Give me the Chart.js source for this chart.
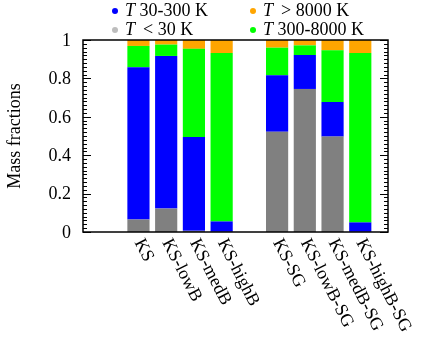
<!DOCTYPE html>
<html>
<head>
<meta charset="utf-8">
<script src="https://cdn.jsdelivr.net/npm/chart.js@4.4.1/dist/chart.umd.min.js"></script>
<style>
    body { margin: 0; background: #fff; }
    #wrap { position: relative; width: 447px; height: 352px; }
    #legend {
        position: absolute; left: 112px; top: 1px;
        display: grid; grid-template-columns: 138px 150px; grid-auto-rows: 19px;
        font: 18px "Liberation Serif", serif; color: #000;
    }
    .item { display: flex; align-items: center; white-space: nowrap; line-height: 19px; }
    .dot { width: 6px; height: 6px; border-radius: 50%; margin-right: 7px; flex: none; }
</style>
</head>
<body>
<div id="wrap">
    <canvas id="massChart" width="447" height="352"></canvas>
    <div id="legend"></div>
</div>
<script>
// Runs, in the order they appear on the axis (a gap splits the two groups)
const runsNoSG = ['KS', 'KS-lowB', 'KS-medB', 'KS-highB'];
const runsSG = ['KS-SG', 'KS-lowB-SG', 'KS-medB-SG', 'KS-highB-SG'];

// Mass fractions per temperature phase
const fracCold = [0.065, 0.122, 0.006, 0.001, 0.522, 0.745, 0.497, 0.001]; // T < 30 K
const fracCool = [0.793, 0.795, 0.489, 0.054, 0.294, 0.177, 0.180, 0.049]; // T 30-300 K
const fracWarm = [0.111, 0.059, 0.459, 0.877, 0.144, 0.050, 0.269, 0.882]; // T 300-8000 K
const fracHot  = [0.031, 0.024, 0.046, 0.068, 0.040, 0.028, 0.054, 0.068]; // T > 8000 K

const yTicks = [0, 0.2, 0.4, 0.6, 0.8, 1];
const yTitle = 'Mass fractions';

const runs = runsNoSG.concat(runsSG);
// axis slots: two empty slots on the left, one between the groups, one on the right
const axisSlots = ['', ' '].concat(runsNoSG, ['  '], runsSG, ['   ']);

const FONT = '18px "Liberation Serif", serif';

const phases = [
    { label: 'T < 30 K', html: '<i>T</i>&thinsp; &lt; 30 K', data: fracCold, color: '#808080', dot: '#bdbdbd' },
    { label: 'T 30-300 K', html: '<i>T</i> 30-300 K', data: fracCool, color: '#0000ff', dot: '#0000ff' },
    { label: 'T 300-8000 K', html: '<i>T</i> 300-8000 K', data: fracWarm, color: '#00ff00', dot: '#00ff00' },
    { label: 'T > 8000 K', html: '<i>T</i>&thinsp; &gt; 8000 K', data: fracHot, color: '#ffa500', dot: '#ffa500' }
];

// Legend (two columns, filled column by column)
const legendOrder = [1, 3, 0, 2];
document.getElementById('legend').innerHTML = legendOrder.map(i => {
    const p = phases[i];
    return `<div class="item"><span class="dot" style="background:${p.dot}"></span><span>${p.html}</span></div>`;
}).join('');

/**
 * Frame with inward ticks on both sides, axis texts in the serif face
 */
const framePlugin = {
    id: 'frame',
    afterDatasetsDraw(chart) {
        const { ctx, chartArea: a } = chart;
        const y = chart.scales.y;
        ctx.save();
        ctx.strokeStyle = '#000';
        ctx.lineWidth = 1;
        for (let k = 0; k <= 50; k++) {
            const py = Math.round(y.getPixelForValue(k / 50)) + 0.5;
            const len = k % 10 === 0 ? 8 : 4;
            ctx.beginPath();
            ctx.moveTo(a.left, py); ctx.lineTo(a.left + len, py);
            ctx.moveTo(a.right, py); ctx.lineTo(a.right - len, py);
            ctx.stroke();
        }
        ctx.lineWidth = 1.5;
        ctx.strokeRect(a.left, a.top, a.right - a.left, a.bottom - a.top);
        ctx.restore();
    },
    afterDraw(chart) {
        const { ctx, chartArea: a } = chart;
        const x = chart.scales.x;
        const y = chart.scales.y;
        ctx.save();
        ctx.fillStyle = '#000';
        ctx.font = FONT;

        // y tick labels
        ctx.textAlign = 'right';
        ctx.textBaseline = 'middle';
        yTicks.forEach(v => {
            ctx.fillText(String(v), a.left - 12, y.getPixelForValue(v) + 1);
        });

        // y title
        ctx.save();
        ctx.translate(15, (a.top + a.bottom) / 2);
        ctx.rotate(-Math.PI / 2);
        ctx.textAlign = 'center';
        ctx.fillText(yTitle, 0, 0);
        ctx.restore();

        // run names under the bars
        ctx.textAlign = 'left';
        runs.forEach(name => {
            const px = x.getPixelForValue(axisSlots.indexOf(name));
            ctx.save();
            ctx.translate(px, a.bottom + 8);
            ctx.rotate(63 * Math.PI / 180);
            ctx.fillText(name, 0, 0);
            ctx.restore();
        });
        ctx.restore();
    }
};

function drawChart() {
    new Chart(document.getElementById('massChart'), {
        type: 'bar',
        data: {
            labels: axisSlots,
            datasets: phases.map(p => ({
                label: p.label,
                data: runs.map((r, i) => ({ x: r, y: p.data[i] })),
                backgroundColor: p.color,
                borderWidth: 0,
                categoryPercentage: 1,
                barPercentage: 0.8
            }))
        },
        options: {
            responsive: false,
            devicePixelRatio: 1,
            animation: false,
            layout: { padding: { top: 40, right: 59, bottom: 120, left: 83 } },
            plugins: {
                legend: { display: false },
                tooltip: { enabled: false }
            },
            scales: {
                x: { type: 'category', display: false, stacked: true, offset: false },
                y: { stacked: true, min: 0, max: 1, display: false }
            }
        },
        plugins: [framePlugin]
    });
}

document.fonts.load(FONT).then(drawChart, drawChart);
</script>
</body>
</html>
